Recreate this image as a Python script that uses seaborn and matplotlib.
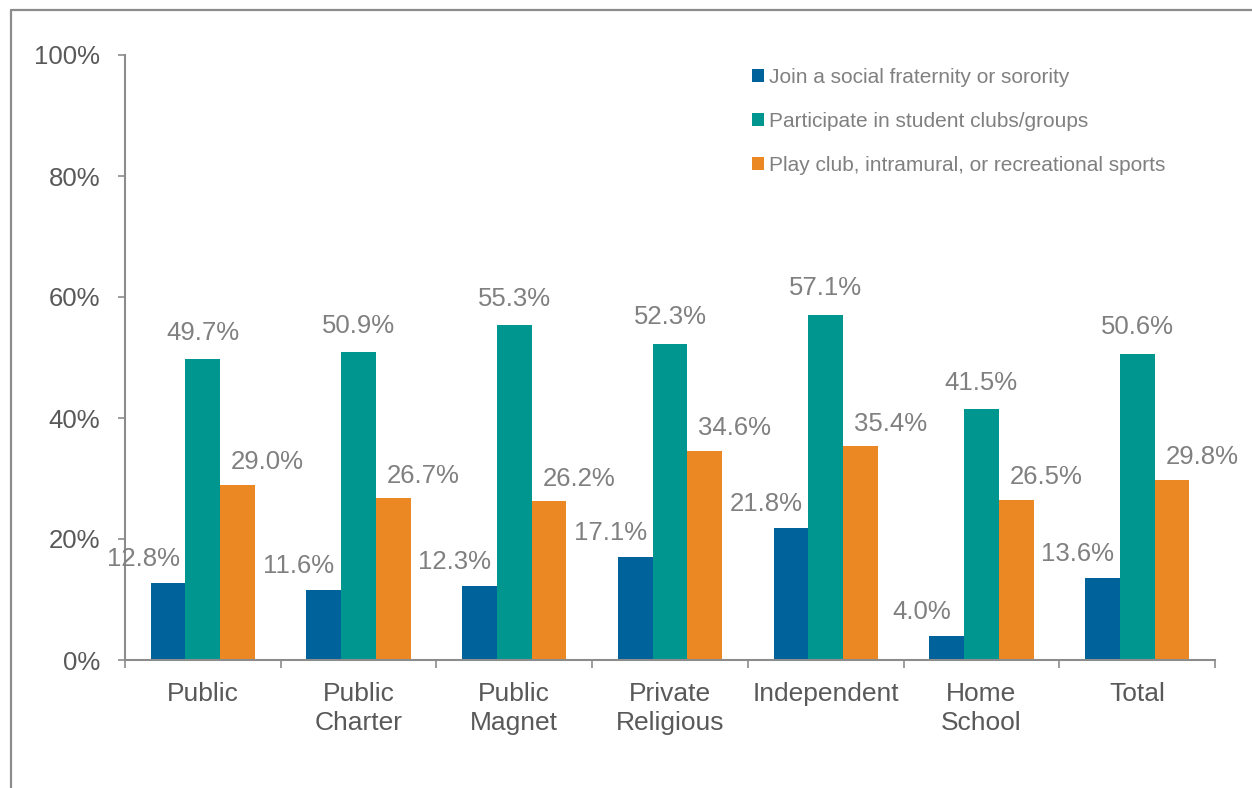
import matplotlib
matplotlib.use("Agg")
import matplotlib.pyplot as plt
from matplotlib.lines import Line2D
from matplotlib.patches import Patch
import seaborn as sns
import pandas as pd

# --- data -------------------------------------------------------------
categories = ["Public", "Public\nCharter", "Public\nMagnet", "Private\nReligious",
              "Independent", "Home\nSchool", "Total"]
series = ["Join a social fraternity or sorority",
          "Participate in student clubs/groups",
          "Play club, intramural, or recreational sports"]
fraternity = [12.8, 11.6, 12.3, 17.1, 21.8, 4.0, 13.6]
clubs = [49.7, 50.9, 55.3, 52.3, 57.1, 41.5, 50.6]
sports = [29.0, 26.7, 26.2, 34.6, 35.4, 26.5, 29.8]
ytick_values = [0, 20, 40, 60, 80, 100]

# --- styling ----------------------------------------------------------
colors = ["#00629B", "#009690", "#EB8823"]
label_grey = "#808080"
tick_grey = "#595959"
axis_grey = "#8C8C8C"
# offsets (points) of the value labels relative to each bar top
label_offsets = [(-18, 17), (0, 19), (21.5, 16)]

sns.set_theme(style="white")
plt.rcParams["font.family"] = ["Liberation Sans", "DejaVu Sans"]

df = pd.DataFrame({
    "category": categories * 3,
    "series": [series[0]] * 7 + [series[1]] * 7 + [series[2]] * 7,
    "value": fraternity + clubs + sports,
})
values_by_series = [fraternity, clubs, sports]

fig = plt.figure(figsize=(12.52, 7.88), dpi=100)
ax = fig.add_axes([125 / 1252, 1 - 660 / 788, 1090 / 1252, 605 / 788])

sns.barplot(data=df, x="category", y="value", hue="series",
            order=categories, hue_order=series, palette=colors,
            width=0.67, saturation=1, errorbar=None, legend=False,
            linewidth=0, ax=ax)

# value labels
for container, vals, (dx, dy) in zip(ax.containers, values_by_series, label_offsets):
    for bar, v in zip(container, vals):
        ax.annotate(f"{v:.1f}%",
                    xy=(bar.get_x() + bar.get_width() / 2, bar.get_height()),
                    xytext=(dx, dy), textcoords="offset points",
                    ha="center", va="center", fontsize=18.5, color=label_grey)

# axes
ax.set_xlim(-0.5, len(categories) - 0.5)
ax.set_ylim(0, 100)
ax.set_yticks(ytick_values)
ax.set_yticklabels([f"{t}%" for t in ytick_values])
ax.set_xticks(range(len(categories)))
ax.set_xticklabels(categories, linespacing=1.28)
ax.set_xticks([i - 0.5 for i in range(len(categories) + 1)], minor=True)
ax.set_xlabel("")
ax.set_ylabel("")

ax.tick_params(axis="y", which="major", direction="out", length=5, width=1.2,
               color=axis_grey, labelsize=18.5, labelcolor=tick_grey, pad=13, left=True)
ax.tick_params(axis="x", which="major", length=0, labelsize=19,
               labelcolor=tick_grey, pad=15.5)
ax.tick_params(axis="x", which="minor", direction="out", length=6, width=1.2,
               color=axis_grey, bottom=True)

for side in ["top", "right"]:
    ax.spines[side].set_visible(False)
for side in ["left", "bottom"]:
    ax.spines[side].set_color(axis_grey)
    ax.spines[side].set_linewidth(1.5)

# legend
handles = [Patch(facecolor=c, edgecolor="none") for c in colors]
leg = ax.legend(handles, series, loc="upper left",
                bbox_to_anchor=(0.575, 0.979), frameon=False,
                fontsize=15, handlelength=0.6, handleheight=0.6,
                handletextpad=0.25, labelspacing=1.2, borderpad=0,
                borderaxespad=0)
for t in leg.get_texts():
    t.set_color(label_grey)

# outer frame lines
fig.add_artist(Line2D([11 / 1252, 11 / 1252], [0, 1 - 10 / 788],
                      transform=fig.transFigure, color="#8C8C8C", lw=1.6))
fig.add_artist(Line2D([11 / 1252, 1], [1 - 10 / 788, 1 - 10 / 788],
                      transform=fig.transFigure, color="#8C8C8C", lw=1.6))

fig.savefig("out.png", dpi=100)
